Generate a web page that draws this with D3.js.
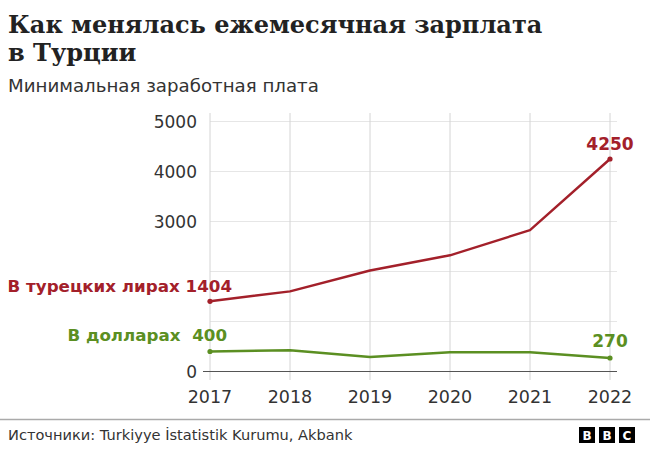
<!DOCTYPE html>
<html><head><meta charset="utf-8">
<script src="https://cdn.jsdelivr.net/npm/d3@7"></script>
<style>
body{margin:0;background:#fff;}
svg{display:block;}
</style></head>
<body>
<svg id="c" width="650" height="454"></svg>
<script>
const years = [2017, 2018, 2019, 2020, 2021, 2022];
const liraValues = [1404, 1603, 2020, 2324, 2826, 4250];
const dollarValues = [400, 425, 290, 385, 385, 270];
const yTickLabels = [0, 3000, 4000, 5000];
const gridValues = [1000, 2000, 3000, 4000, 5000];

const svg = d3.select("#c");
const SANS = "'DejaVu Sans', sans-serif";
const SERIF = "'DejaVu Serif', serif";
const RED = "#a3202a", GREEN = "#5b8f22";

// titles
svg.append("text").attr("x", 8).attr("y", 33).attr("font-family", SERIF).attr("font-size", 24)
  .attr("font-weight", 700).attr("fill", "#222").text("Как менялась ежемесячная зарплата");
svg.append("text").attr("x", 8).attr("y", 61).attr("font-family", SERIF).attr("font-size", 24)
  .attr("font-weight", 700).attr("fill", "#222").text("в Турции");
svg.append("text").attr("x", 8).attr("y", 92).attr("font-family", SANS).attr("font-size", 18.2)
  .attr("fill", "#333").text("Минимальная заработная плата");

const x = d3.scaleLinear().domain([2017, 2022]).range([210, 610]);
const y = d3.scaleLinear().domain([0, 5000]).range([371.5, 121.5]);

// grid
const g = svg.append("g");
g.selectAll(".hg").data(gridValues).join("line")
  .attr("x1", 210).attr("x2", 617).attr("y1", d => y(d)).attr("y2", d => y(d))
  .attr("stroke", "#e6e6e6").attr("stroke-width", 1);
g.selectAll(".vg").data(years).join("line")
  .attr("x1", d => x(d)).attr("x2", d => x(d)).attr("y1", 113).attr("y2", 380)
  .attr("stroke", "#d4d4d4").attr("stroke-width", 1);
// axis line
g.append("line").attr("x1", 203).attr("x2", 617).attr("y1", y(0)).attr("y2", y(0))
  .attr("stroke", "#555").attr("stroke-width", 1.2);

// y labels
g.selectAll(".yl").data(yTickLabels).join("text")
  .attr("x", 197).attr("y", d => y(d)).attr("dy", "0.36em").attr("text-anchor", "end")
  .attr("font-family", SANS).attr("font-size", 17).attr("fill", "#333").text(d => d);
// x labels
g.selectAll(".xl").data(years).join("text")
  .attr("x", d => x(d)).attr("y", 403).attr("text-anchor", "middle")
  .attr("font-family", SANS).attr("font-size", 17.5).attr("fill", "#333").text(d => d);

// lines
const line = d3.line().x((d, i) => x(years[i])).y(d => y(d));
svg.append("path").datum(liraValues).attr("d", line).attr("fill", "none")
  .attr("stroke", RED).attr("stroke-width", 2.4).attr("stroke-linejoin", "round");
svg.append("path").datum(dollarValues).attr("d", line).attr("fill", "none")
  .attr("stroke", GREEN).attr("stroke-width", 2.4).attr("stroke-linejoin", "round");

const ends = [0, years.length - 1];
svg.selectAll(".dr").data(ends).join("circle")
  .attr("cx", i => x(years[i])).attr("cy", i => y(liraValues[i])).attr("r", 2.6).attr("fill", RED);
svg.selectAll(".dg").data(ends).join("circle")
  .attr("cx", i => x(years[i])).attr("cy", i => y(dollarValues[i])).attr("r", 2.6).attr("fill", GREEN);

// series labels
svg.append("text").attr("x", 232).attr("y", 292).attr("text-anchor", "end")
  .attr("font-family", SANS).attr("font-size", 16.7).attr("font-weight", 700).attr("fill", RED)
  .text("В турецких лирах " + liraValues[0]);
svg.append("text").attr("x", 227).attr("y", 341).attr("text-anchor", "end")
  .attr("font-family", SANS).attr("font-size", 16.7).attr("font-weight", 700).attr("fill", GREEN)
  .attr("xml:space", "preserve").text("В долларах  " + dollarValues[0]);
svg.append("text").attr("x", x(2022)).attr("y", 150).attr("text-anchor", "middle")
  .attr("font-family", SANS).attr("font-size", 17).attr("font-weight", 700).attr("fill", RED)
  .text(liraValues[5]);
svg.append("text").attr("x", x(2022)).attr("y", 347).attr("text-anchor", "middle")
  .attr("font-family", SANS).attr("font-size", 17).attr("font-weight", 700).attr("fill", GREEN)
  .text(dollarValues[5]);

// footer
svg.append("line").attr("x1", 0).attr("x2", 650).attr("y1", 419.5).attr("y2", 419.5)
  .attr("stroke", "#aaa").attr("stroke-width", 1.5);
svg.append("text").attr("x", 8).attr("y", 440).attr("font-family", SANS).attr("font-size", 14.6)
  .attr("fill", "#333").text("Источники: Turkiyye İstatistik Kurumu, Akbank");
const bbc = ["B", "B", "C"];
const lg = svg.selectAll(".bbc").data(bbc).join("g").attr("transform", (d, i) => `translate(${579 + i * 20},427)`);
lg.append("rect").attr("width", 16).attr("height", 16).attr("fill", "#000");
lg.append("text").attr("x", 8).attr("y", 13).attr("text-anchor", "middle").attr("font-family", "'DejaVu Sans', sans-serif")
  .attr("font-weight", 700).attr("font-size", 12).attr("fill", "#fff").text(d => d);
</script>
</body></html>
